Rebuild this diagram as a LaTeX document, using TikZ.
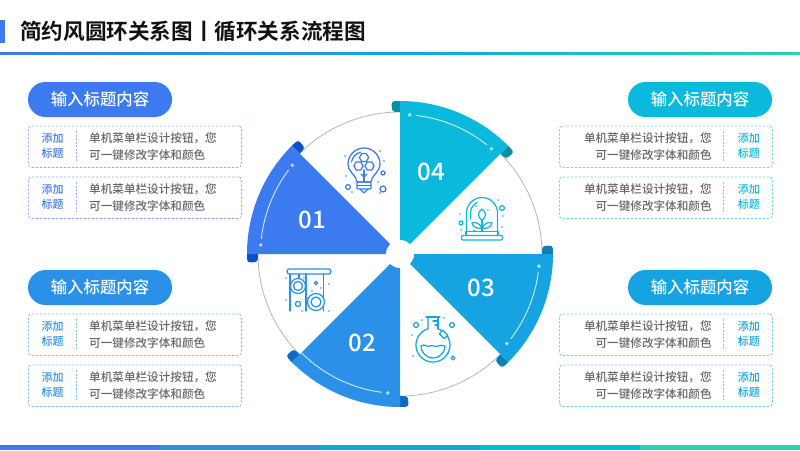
\documentclass[tikz,border=0pt]{standalone}
\usepackage{fontspec}
\setmainfont{Noto Sans CJK SC Medium}[BoldFont=Noto Sans CJK SC Bold]
\usetikzlibrary{positioning,calc}
\definecolor{cone}{HTML}{3B7BEF}
\definecolor{ctwo}{HTML}{2A90E8}
\definecolor{cthree}{HTML}{15A3E2}
\definecolor{cfour}{HTML}{0BB9DD}
\definecolor{cfive}{HTML}{2ECFB0}
\definecolor{done}{HTML}{0A50C8}
\definecolor{dtwo}{HTML}{0C6CC4}
\definecolor{dthree}{HTML}{0E7FB0}
\definecolor{dfour}{HTML}{0A8FA8}
\definecolor{ink}{HTML}{111111}
\definecolor{mute}{HTML}{666666}
\definecolor{ring}{HTML}{B4B4B4}

% wedge with its two folded ends: colour, fold colour, start angle
\newcommand{\ringsector}[3]{
  \fill[#2] (#3:142) -- (#3:153) {[rounded corners=3pt] -- (#3-3.2:153) -- (#3-3.2:142.5)} -- cycle;
  \fill[#2] (#3+45:142) -- (#3+45:153) {[rounded corners=3pt] -- (#3+48.2:153) -- (#3+48.2:142.5)} -- cycle;
  \fill[#1] (0,0) -- (#3:153) arc[start angle=#3, end angle=#3+45, radius=153] -- cycle;
}
% white inner line with a dot at each end: start angle, end angle
\newcommand{\sectorline}[2]{
  \fill[white, opacity=.7] (#1:139.5) circle (1.9);
  \fill[white, opacity=.7] (#2:139.5) circle (1.9);
  \draw[white, opacity=.8, line width=.9pt] (#1+2.5:139.5) arc[start angle=#1+2.5, end angle=#2-2.5, radius=139.5];
}

\begin{document}
\begin{tikzpicture}[
  x=1pt, y=-1pt,
  headline/.style={font=\fontsize{21.6}{24}\selectfont\bfseries, text=ink, inner sep=0pt, anchor=west},
  pill/.style={fill=#1, preaction={draw=#1, line width=5pt, draw opacity=.04},
               rounded corners=17.5pt, minimum width=144pt, minimum height=35pt, inner sep=0pt,
               text=white, font=\fontsize{16.4}{20}\selectfont},
  card/.style={draw, dashed, rounded corners=3pt, line width=.8pt, minimum width=213pt,
               minimum height=41.5pt, inner sep=0pt, anchor=north west, dash pattern=on 2.4pt off 1.6pt},
  tag/.style={align=center, inner sep=0pt, font=\fontsize{11}{14.5}\selectfont},
  body/.style={inner sep=0pt, text=mute, font=\fontsize{11.6}{17}\selectfont},
  num/.style={text=white, inner sep=0pt, font=\fontsize{24}{28}\selectfont},
  divider/.style={dashed, line width=.7pt, dash pattern=on 2pt off 1.5pt},
  icon/.style={line width=1.25pt, line cap=round, line join=round},
]
\useasboundingbox (0,0) rectangle (800,450);

% ============================================================ HEADER
\fill[cone] (0,20) rectangle (5,43);
\node[headline] (title) at (20,31) {简约风圆环关系图丨循环关系流程图};
\shade[left color=cone, right color=cfive, middle color=cthree] (0,52) rectangle (800,54);

% ============================================================ FOOTER STRIP
\foreach \c [count=\i from 0] in {cone,ctwo,cthree,cfour,cfive}
  \fill[\c] (160*\i,445) rectangle (160*\i+160,450);

% ============================================================ RING
\begin{scope}[shift={(400,254)}, y=1pt]
  \foreach \a in {90,0,-90,-180}
    \draw[ring, line width=.8pt] (\a:142) arc[start angle=\a, end angle=\a+45, radius=142];
  \ringsector{cone}{done}{135}
  \ringsector{ctwo}{dtwo}{-135}
  \ringsector{cthree}{dthree}{-45}
  \ringsector{cfour}{dfour}{45}
  \sectorline{140.5}{176.3}
  \sectorline{-140}{-95}
  \sectorline{-40}{-5}
  \sectorline{49}{86}
  \fill[white] (0,0) circle (14);
\end{scope}
\node[num] (n1) at (312,220) {01};
\node[num] (n2) at (362,343) {02};
\node[num] (n3) at (481,288) {03};
\node[num] (n4) at (431,172) {04};

% ============================================================ ICONS
% bulb
\begin{scope}[shift={(364,164)}, y=1pt, icon, draw=cone]
  \draw (-7,-18) .. controls (-7,-12) and (-16,-8) .. (-16,0) arc[start angle=180, end angle=0, radius=16]
    .. controls (16,-8) and (7,-12) .. (7,-18) -- cycle;
  \draw (-12.5,2) arc[start angle=170, end angle=105, radius=12.5];
  \draw[rounded corners=1pt] (-7,-18) rectangle (7,-25);
  \draw (-7,-21.5) -- (7,-21.5);
  \draw (-4,-25) -- (0,-29) -- (4,-25);
  \foreach \p in {(0,6.5),(-5.5,-2),(5.5,-2)}
    \draw[shift={\p}] (0:4.6) -- (60:4.6) -- (120:4.6) -- (180:4.6) -- (240:4.6) -- (300:4.6) -- cycle;
  \draw (0,-6) -- (0,-18);
  \draw (-3,-10) -- (0,-13) -- (3,-10);
  \draw (19,-9) circle (2);
  \draw (-16,-23) circle (2.4);
  \draw (19,-25) circle (3);
  \foreach \p in {(-19,8),(16,13),(20,3),(-18,-12),(-12,-28),(14,-18),(16,-29)}
    \fill[cone] \p circle (.8);
\end{scope}
% dome
\begin{scope}[shift={(482,240)}, y=1pt, icon, draw=cfour]
  \draw[rounded corners=1pt] (-20.5,0) rectangle (20.5,4.5);
  \draw (-16,4.5) -- (-16,8.5) -- (16,8.5) -- (16,4.5);
  \draw (-15.5,8.5) -- (-15.5,27) arc[start angle=180, end angle=0, radius=15.5] -- (15.5,8.5);
  \draw (-11.5,21) -- (-11.5,27) arc[start angle=180, end angle=115, radius=11.5];
  \draw (0,8.5) -- (0,20);
  \draw (0,20) .. controls (-6,24) and (-3,29) .. (0,31) .. controls (3,29) and (6,24) .. (0,20);
  \draw (0,12) .. controls (-3,18) and (-8,18) .. (-10,17) .. controls (-9,12) and (-4,11) .. (0,12);
  \draw (0,12) .. controls (3,18) and (8,18) .. (10,17) .. controls (9,12) and (4,11) .. (0,12);
  \draw (-21,17) circle (2);
  \draw (20,32) circle (2.4);
  \foreach \p in {(-22,26),(-21,10),(16,40),(21,24),(20,13),(-6,34),(6,30),(-8,9.5)}
    \fill[cfour] \p circle (.8);
\end{scope}
% pulleys
\begin{scope}[shift={(309,290)}, y=1pt, icon, draw=ctwo]
  \draw[rounded corners=2.5pt] (-22,21) rectangle (22,16);
  \draw (-19,16) -- (-19,-21);
  \draw (-10,16) -- (-10,11);
  \draw (-3,16) -- (-3,-21);
  \draw (14.5,16) -- (14.5,-21);
  \draw[fill=white] (-11,4) circle (7.5);
  \draw (-11,4) circle (4.5);
  \draw[fill=white] (7,-12) circle (8.5);
  \draw (7,-12) circle (5);
  \draw (7,7) circle (1.8);
  \draw (-11,-14) circle (2.6);
  \foreach \p in {(-23,12),(-23,-10),(-5,12),(3,-1),(12,2),(20,6),(-7,-21),(20,-21),(-2,-8)}
    \fill[ctwo] \p circle (.8);
\end{scope}
% flask
\begin{scope}[shift={(433,345)}, y=1pt, icon, draw=cthree]
  \draw (-7,28) -- (7,28);
  \draw (5,16.2) -- (5,28);
  \draw (-5,28) -- (-5,16.2) arc[start angle=107, end angle=433, radius=17];
  \draw (0,24) -- (5,24);
  \draw (2,20) -- (5,20);
  \draw[rotate around={-45:(10.5,10.5)}, fill=white] (7,8) rectangle (14,13);
  \draw (-12,-1) .. controls (-8,2) and (-6,-3) .. (-3,-1) .. controls (0,1) and (2,-3) .. (5,-1)
    .. controls (7,1) and (10,-1) .. (12,-1) arc[start angle=0, end angle=-180, radius=12];
  \draw (-17,20) circle (2.4);
  \draw (19,20) circle (2.4);
  \draw (20,-13) circle (1.9);
  \foreach \p in {(-21,10),(-11,25),(11,27),(-20,-11),(15,-8)}
    \fill[cthree] \p circle (.8);
\end{scope}

% ============================================================ TITLES
\node[pill=cone]   (p1) at (100,99.5)  {输入标题内容};
\node[pill=ctwo]   (p2) at (100,287.5) {输入标题内容};
\node[pill=cfour]  (p4) at (700,99.5)  {输入标题内容};
\node[pill=cthree] (p3) at (700,287.5) {输入标题内容};

% ============================================================ LEFT CARDS
\foreach \name/\ypos/\c in {a/125.5/cone, b/176.5/cone, c/313.5/ctwo, d/364.5/ctwo} {
  \node[card, draw=\c!60] (\name) at (28,\ypos) {};
  \node[tag, text=\c] (\name tag) at ([xshift=24.5pt,yshift=.7pt]\name.west) {添加\\标题};
  \node[body, anchor=west, align=left] (\name txt) at ([xshift=61pt]\name.west) {单机菜单栏设计按钮，您\\可一键修改字体和颜色};
  \draw[divider, \c!60] ([xshift=48.5pt,yshift=15.5pt]\name.west) -- ([xshift=48.5pt,yshift=-15.5pt]\name.west);
}

% ============================================================ RIGHT CARDS
\foreach \name/\ypos/\c in {e/125.5/cfour, f/176.5/cfour, g/313.5/cthree, h/364.5/cthree} {
  \node[card, draw=\c!60] (\name) at (559,\ypos) {};
  \node[tag, text=\c] (\name tag) at ([xshift=-24pt,yshift=.7pt]\name.east) {添加\\标题};
  \node[body, anchor=east, align=right] (\name txt) at ([xshift=-61pt]\name.east) {单机菜单栏设计按钮，您\\可一键修改字体和颜色};
  \draw[divider, \c!60] ([xshift=-49pt,yshift=15.5pt]\name.east) -- ([xshift=-49pt,yshift=-15.5pt]\name.east);
}
\end{tikzpicture}
\end{document}
